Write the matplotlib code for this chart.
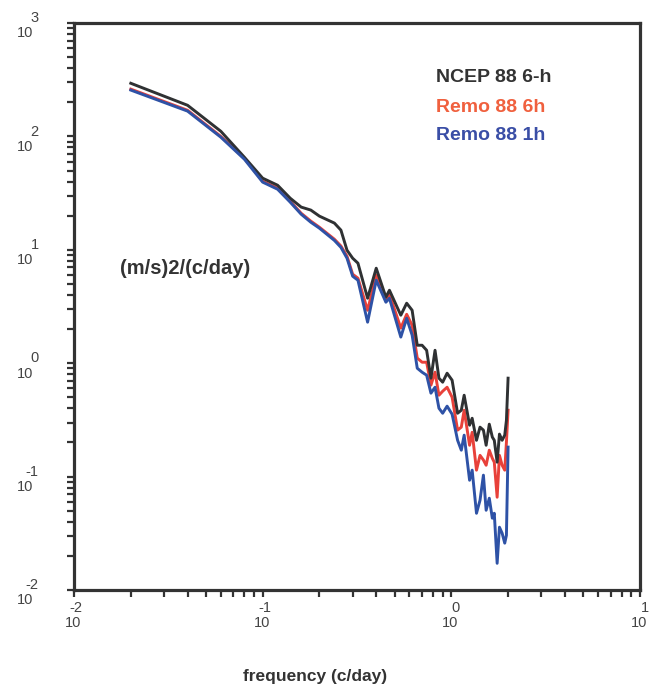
import matplotlib
matplotlib.use('Agg')
import matplotlib.pyplot as plt
from matplotlib.ticker import LogLocator, NullFormatter

plt.rcParams['font.family'] = ['Liberation Sans', 'DejaVu Sans']

# frequency (c/day) and spectral density (m/s)^2/(c/day)
freq = [0.02, 0.04, 0.06, 0.08, 0.10, 0.12, 0.14, 0.16, 0.18, 0.20,
        0.24, 0.26, 0.28, 0.30, 0.32, 0.36, 0.40, 0.45, 0.47,
        0.54, 0.58, 0.62, 0.66, 0.70, 0.74, 0.78, 0.82, 0.86, 0.90, 0.95, 1.01,
        1.08, 1.13, 1.17, 1.25, 1.29, 1.36, 1.42, 1.48, 1.53, 1.59, 1.65, 1.69,
        1.75, 1.80, 1.86, 1.92, 1.96, 2.00]

ncep_6h = [294, 188, 111, 65.5, 42.8, 37.1, 28.5, 23.8, 22.4, 19.8,
           17.2, 14.9, 9.92, 8.43, 7.62, 3.74, 6.88, 3.82, 4.40,
           2.65, 3.38, 2.93, 1.44, 1.44, 1.30, 0.738, 1.30, 0.738, 0.680, 0.816, 0.708,
           0.362, 0.385, 0.522, 0.284, 0.327, 0.209, 0.273, 0.257, 0.189, 0.290, 0.223, 0.209,
           0.134, 0.237, 0.209, 0.232, 0.314, 0.738]

remo_6h = [261, 170, 100, 64.2, 40.3, 34.9, 26.8, 21.0, 17.9, 15.8,
           12.4, 10.8, 8.78, 6.09, 5.62, 2.93, 5.97, 3.59, 4.06,
           2.04, 2.70, 2.16, 1.11, 1.02, 1.02, 0.640, 0.833, 0.522, 0.566, 0.614, 0.501,
           0.257, 0.273, 0.385, 0.189, 0.246, 0.114, 0.154, 0.140, 0.126, 0.171, 0.145, 0.134,
           0.0658, 0.154, 0.126, 0.114, 0.201, 0.385]

remo_1h = [256, 167, 98.4, 62.9, 39.5, 34.2, 26.3, 20.6, 17.5, 15.5,
           12.1, 10.5, 8.43, 5.85, 5.39, 2.30, 5.39, 3.45, 3.74,
           1.70, 2.49, 1.77, 0.903, 0.833, 0.784, 0.544, 0.614, 0.401, 0.362, 0.418, 0.355,
           0.209, 0.171, 0.232, 0.0929, 0.114, 0.0475, 0.0619, 0.103, 0.0505, 0.0645, 0.0430, 0.0475,
           0.0172, 0.0358, 0.0317, 0.0259, 0.0304, 0.182]

x_exps = [-2, -1, 0, 1]
y_exps = [-2, -1, 0, 1, 2, 3]

series_names = ['NCEP 88 6-h', 'Remo 88 6h', 'Remo 88 1h']
line_colors = ['#2f3133', '#e8413a', '#2e52a6']
text_colors = ['#333333', '#f0603e', '#3a4ea6']

fig = plt.figure(figsize=(6.55, 6.84), dpi=100)
ax = fig.add_axes([0.113, 0.1374, 0.864, 0.829])

ax.plot(freq, remo_6h, color=line_colors[1], lw=2.1, zorder=2)
ax.plot(freq, ncep_6h, color=line_colors[0], lw=2.1, zorder=3)
ax.plot(freq, remo_1h, color=line_colors[2], lw=2.1, zorder=4)

ax.set_xscale('log')
ax.set_yscale('log')
ax.set_xlim(10.0 ** x_exps[0], 10.0 ** x_exps[-1])
ax.set_ylim(10.0 ** y_exps[0], 10.0 ** y_exps[-1])

for s in ax.spines.values():
    s.set_linewidth(2.3)
    s.set_color('#333333')

ax.xaxis.set_major_locator(LogLocator(base=10, numticks=10))
ax.yaxis.set_major_locator(LogLocator(base=10, numticks=10))
ax.xaxis.set_minor_locator(LogLocator(base=10, subs=range(2, 10), numticks=20))
ax.yaxis.set_minor_locator(LogLocator(base=10, subs=range(2, 10), numticks=20))
ax.xaxis.set_major_formatter(NullFormatter())
ax.yaxis.set_major_formatter(NullFormatter())
ax.xaxis.set_minor_formatter(NullFormatter())
ax.yaxis.set_minor_formatter(NullFormatter())
ax.tick_params(which='both', direction='out', length=4.8, width=1.6, color='#333333',
               top=False, right=False)

# tick labels drawn as "10" with the exponent above
lab_col = '#444444'
for e in y_exps:
    ax.annotate('10', xy=(0, 10.0 ** e), xycoords=('axes fraction', 'data'),
                xytext=(-29.5, -7.5), textcoords='offset points',
                ha='right', va='center', fontsize=10.5, color=lab_col)
    ax.annotate(str(e), xy=(0, 10.0 ** e), xycoords=('axes fraction', 'data'),
                xytext=(-25.5, 3.5), textcoords='offset points',
                ha='right', va='center', fontsize=10.5, color=lab_col)
for e in x_exps:
    ax.annotate('10', xy=(10.0 ** e, 0), xycoords=('data', 'axes fraction'),
                xytext=(-0.7, -23.8), textcoords='offset points',
                ha='center', va='center', fontsize=10.5, color=lab_col)
    ax.annotate(str(e), xy=(10.0 ** e, 0), xycoords=('data', 'axes fraction'),
                xytext=(6.2, -12.8), textcoords='offset points',
                ha='right', va='center', fontsize=10.5, color=lab_col)

fig.text(315 / 655, 1 - 676 / 684, 'frequency (c/day)', ha='center', va='center',
         fontsize=12.5, fontweight='bold', color='#333333')
fig.text(120 / 655, 1 - 268 / 684, '(m/s)2/(c/day)', ha='left', va='center',
         fontsize=14.5, fontweight='bold', color='#333333')

for i, name in enumerate(series_names):
    fig.text(436 / 655, 1 - (78 + 29 * i) / 684, name, ha='left', va='center',
             fontsize=14, fontweight='bold', color=text_colors[i])

fig.savefig('out.png', dpi=100)
